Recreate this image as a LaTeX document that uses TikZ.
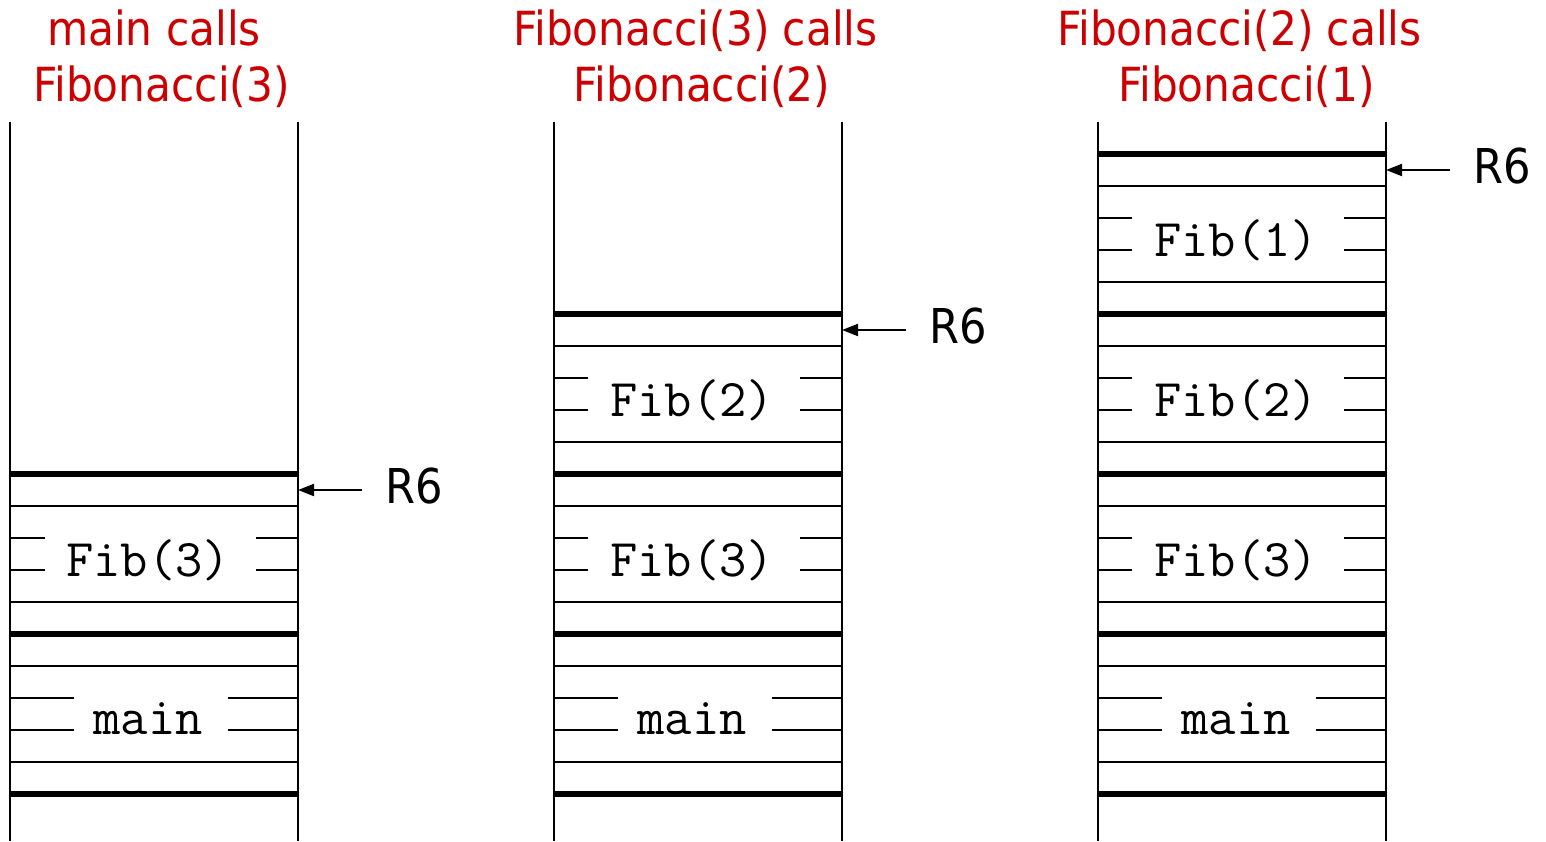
\documentclass[tikz,border=0pt]{standalone}
\usepackage{fontspec}
\setmainfont{DejaVu Sans Condensed}
\usetikzlibrary{arrows.meta}
\definecolor{titlered}{RGB}{204,0,0}
\tikzset{
  ptrhead/.tip={Triangle[length=16pt,width=12pt]},
}
\begin{document}
\begin{tikzpicture}[x=1pt,y=-1pt,
  thinrule/.style={line width=2pt},
  thickrule/.style={line width=6.5pt},
  framelabel/.style={font=\ttfamily\fontsize{53}{53}\selectfont, anchor=base, inner sep=0pt},
  titletext/.style={text=titlered, font=\fontsize{47}{47}\selectfont, anchor=base, inner sep=0pt},
  reglabel/.style={font=\fontsize{48}{48}\selectfont, anchor=base west, inner sep=0pt},
  ptr/.style={line width=2pt, arrows={-ptrhead}}]
\useasboundingbox (0,0) rectangle (1546,841);

% stack frame: #1 left edge, #2 top (thick rule), #3 label, #4 left gap, #5 right gap, #6 baseline offset, #7 name
\newcommand{\stackframe}[7]{%
  \draw[thickrule] (#1,#2) -- ++(288,0);
  \draw[thinrule] (#1,#2+32) -- ++(288,0);
  \draw[thinrule] (#1,#2+128) -- ++(288,0);
  \draw[thinrule] (#1,#2+64) -- ++(#4,0) (#1+288-#5,#2+64) -- ++(#5,0);
  \draw[thinrule] (#1,#2+96) -- ++(#4,0) (#1+288-#5,#2+96) -- ++(#5,0);
  \node[framelabel] (#7) at (#1+138,#2+#6) {#3};
}

% columns: vertical walls and bottom rule
\foreach \cx/\cn in {10/A,554/B,1098/C}{
  \draw[thinrule] (\cx,122) -- (\cx,841);
  \draw[thinrule] (\cx+288,122) -- (\cx+288,841);
  \draw[thickrule] (\cx,794) -- ++(288,0);
}

% left stack
\stackframe{10}{474}{Fib(3)}{35}{42}{102}{a1}
\stackframe{10}{634}{main}{64}{70}{100}{a0}
% middle stack
\stackframe{554}{314}{Fib(2)}{34}{42}{102}{b2}
\stackframe{554}{474}{Fib(3)}{34}{42}{102}{b1}
\stackframe{554}{634}{main}{64}{70}{100}{b0}
% right stack
\stackframe{1098}{154}{Fib(1)}{34}{42}{102}{c3}
\stackframe{1098}{314}{Fib(2)}{34}{42}{102}{c2}
\stackframe{1098}{474}{Fib(3)}{34}{42}{102}{c1}
\stackframe{1098}{634}{main}{64}{70}{100}{c0}

% stack pointers
\coordinate (tipA) at (298,490);
\coordinate (tailA) at (362,490);
\node[reglabel] (rA) at (385,503) {R6};
\draw[ptr] (tailA) -- (tipA);

\coordinate (tipB) at (842,330);
\coordinate (tailB) at (906,330);
\node[reglabel] (rB) at (929,343) {R6};
\draw[ptr] (tailB) -- (tipB);

\coordinate (tipC) at (1386,170);
\coordinate (tailC) at (1450,170);
\node[reglabel] (rC) at (1473,183) {R6};
\draw[ptr] (tailC) -- (tipC);

% headings
\node[titletext] (tA1) at (154,45) {main calls};
\node[titletext] (tA2) at (161.5,101) {Fibonacci(3)};
\node[titletext] (tB1) at (695.5,45) {Fibonacci(3) calls};
\node[titletext] (tB2) at (702,101) {Fibonacci(2)};
\node[titletext] (tC1) at (1239.5,45) {Fibonacci(2) calls};
\node[titletext] (tC2) at (1246.5,101) {Fibonacci(1)};
\end{tikzpicture}
\end{document}
